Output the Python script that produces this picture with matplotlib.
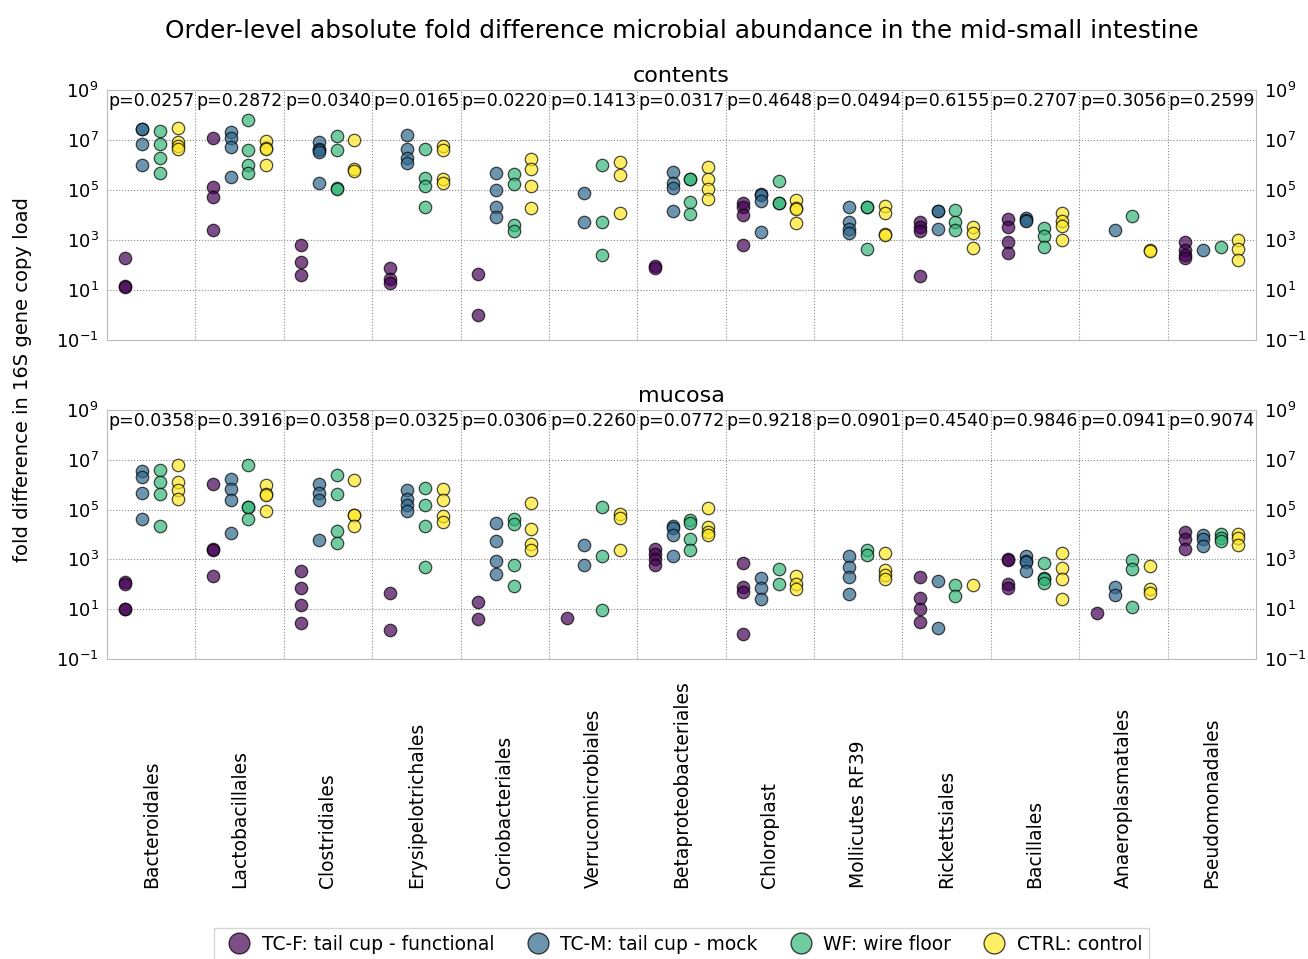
import numpy as np
import matplotlib.pyplot as plt
from matplotlib.lines import Line2D
from matplotlib.ticker import FixedLocator, LogFormatterSciNotation, NullLocator
from matplotlib.transforms import blended_transform_factory

orders = ["Bacteroidales", "Lactobacillales", "Clostridiales", "Erysipelotrichales",
          "Coriobacteriales", "Verrucomicrobiales", "Betaproteobacteriales", "Chloroplast",
          "Mollicutes RF39", "Rickettsiales", "Bacillales", "Anaeroplasmatales",
          "Pseudomonadales"]
groups = ["TC-F: tail cup - functional", "TC-M: tail cup - mock",
          "WF: wire floor", "CTRL: control"]

p_contents = ["0.0257", "0.2872", "0.0340", "0.0165", "0.0220", "0.1413", "0.0317",
              "0.4648", "0.0494", "0.6155", "0.2707", "0.3056", "0.2599"]
p_mucosa = ["0.0358", "0.3916", "0.0358", "0.0325", "0.0306", "0.2260", "0.0772",
            "0.9218", "0.0901", "0.4540", "0.9846", "0.0941", "0.9074"]

# log10 fold difference, one list per order
contents_tcf = [[2.29, 1.15, 1.12], [7.07, 5.11, 4.71, 3.4], [2.8, 2.11, 1.6],
                [1.89, 1.43, 1.29], [1.64, 0.0], [], [1.96, 1.87],
                [4.47, 4.33, 4.0, 2.8], [], [3.73, 3.53, 3.37, 1.56],
                [3.83, 3.53, 2.93, 2.48], [], [2.92, 2.6, 2.4, 2.27]]
contents_tcm = [[7.45, 7.43, 6.84, 5.99], [7.31, 7.09, 6.73, 5.51], [6.93, 6.64, 6.6, 6.51, 5.28],
                [7.2, 6.65, 6.27, 6.07], [5.69, 4.99, 4.33, 3.91], [4.89, 3.72],
                [5.71, 5.27, 5.07, 4.17], [4.83, 4.8, 4.56, 3.31], [4.33, 3.73, 3.44, 3.27],
                [4.17, 4.15, 3.44], [3.87, 3.8, 3.76], [3.41], [2.6]]
contents_wf = [[7.37, 6.84, 6.29, 5.69], [7.79, 6.6, 6.0, 5.67], [7.16, 6.6, 5.07, 5.05],
               [6.65, 5.48, 5.16, 4.31], [5.63, 5.24, 3.6, 3.37], [6.01, 3.71, 2.41],
               [5.44, 5.42, 4.53, 4.05], [5.36, 4.49, 4.47], [4.33, 4.31, 2.63],
               [4.19, 3.73, 3.4], [3.48, 3.17, 2.73], [3.96], [2.72]]
contents_ctrl = [[7.49, 6.91, 6.75, 6.65], [6.96, 6.69, 6.65, 6.0], [6.99, 5.83, 5.75],
                 [6.77, 6.6, 5.44, 5.27], [6.23, 5.85, 5.16, 4.27], [6.12, 5.61, 4.09],
                 [5.93, 5.43, 5.05, 4.64], [4.6, 4.29, 4.25, 3.69], [4.36, 4.09, 3.24, 3.2],
                 [3.53, 3.29, 2.69], [4.07, 3.76, 3.57, 3.0], [2.59, 2.57],
                 [2.99, 2.63, 2.19]]

mucosa_tcf = [[2.09, 2.0, 1.0, 0.99], [6.03, 3.4, 3.38, 2.33], [2.53, 1.85, 1.16, 0.43],
              [1.64, 0.17], [1.29, 0.6], [0.64], [3.43, 3.2, 3.0, 2.79],
              [2.84, 1.91, 1.69, 0.0], [], [2.31, 1.47, 1.0, 0.47],
              [3.0, 2.98, 2.03, 1.87], [0.84], [4.09, 3.8, 3.43]]
mucosa_tcm = [[6.53, 6.31, 5.67, 4.63], [6.24, 5.83, 5.37, 4.07], [6.04, 5.67, 5.37, 3.76],
              [5.77, 5.43, 5.2, 4.96], [4.47, 3.73, 2.95, 2.41], [3.59, 2.77],
              [4.36, 4.27, 3.96, 3.13], [2.25, 1.87, 1.43], [3.13, 2.71, 2.31, 1.6],
              [2.15, 0.24], [3.13, 2.93, 2.9, 2.53], [1.91, 1.56], [3.96, 3.8, 3.53]]
mucosa_wf = [[6.6, 6.09, 5.64, 4.36], [6.8, 5.11, 5.09, 4.63], [6.4, 5.63, 4.16, 3.67],
             [5.87, 5.2, 4.36, 2.71], [4.64, 4.43, 2.77, 1.93], [5.11, 3.13, 0.97],
             [4.57, 4.47, 3.8, 3.37], [2.6, 2.0], [3.37, 3.17],
             [1.97, 1.53], [2.87, 2.27, 2.2, 2.07], [2.96, 2.6, 1.07], [4.0, 3.85, 3.73]]
mucosa_ctrl = [[6.79, 6.11, 5.8, 5.43], [5.97, 5.63, 5.57, 4.93], [6.2, 4.8, 4.78, 4.33],
               [5.83, 5.4, 4.76, 4.49], [5.27, 4.23, 3.6, 3.37], [4.83, 4.67, 3.39],
               [5.07, 4.29, 4.09, 3.96], [2.33, 2.03, 1.83], [3.27, 2.57, 2.37, 2.2],
               [1.97], [3.24, 2.67, 2.2, 1.4], [2.73, 1.83, 1.64], [4.0, 3.84, 3.56]]

colors = plt.cm.viridis(np.linspace(0, 1, 4))
offsets = [-0.3, -0.1, 0.1, 0.3]


def draw_panel(ax, series, pvals, title):
    for g, data in enumerate(series):
        for i, vals in enumerate(data):
            if not vals:
                continue
            x = np.full(len(vals), i + offsets[g])
            ax.scatter(x, 10 ** np.array(vals), s=80, color=colors[g], alpha=0.7,
                       edgecolor="black", linewidth=0.9, zorder=3)
    ax.set_yscale("log")
    ax.set_ylim(1e-1, 1e9)
    ax.set_xlim(-0.5, len(orders) - 0.5)
    ax.yaxis.set_major_locator(FixedLocator([1e-1, 1e1, 1e3, 1e5, 1e7, 1e9]))
    ax.yaxis.set_major_formatter(LogFormatterSciNotation())
    ax.yaxis.set_minor_locator(NullLocator())
    ax.tick_params(axis="y", which="both", length=0, pad=6, labelsize=13,
                   labelright=True, right=True)
    ax.set_xticks(range(len(orders)))
    for y in [1e1, 1e3, 1e5, 1e7]:
        ax.axhline(y, color="#888888", linestyle=":", linewidth=0.8, zorder=1)
    for k in range(1, len(orders)):
        ax.axvline(k - 0.5, color="#888888", linestyle=":", linewidth=0.8, zorder=1)
    for sp in ax.spines.values():
        sp.set_color("#bbbbbb")
    trans = blended_transform_factory(ax.transData, ax.transAxes)
    for i, p in enumerate(pvals):
        ax.text(i, 0.955, "p=" + p, transform=trans, ha="center", va="center",
                fontsize=12.5)
    ax.set_title(title, fontsize=16, pad=6)


fig = plt.figure(figsize=(13.08, 9.59), dpi=100)
ax1 = fig.add_axes([0.0818, 0.6455, 0.8784, 0.2607])
ax2 = fig.add_axes([0.0818, 0.3128, 0.8784, 0.2597])

draw_panel(ax1, [contents_tcf, contents_tcm, contents_wf, contents_ctrl], p_contents, "contents")
draw_panel(ax2, [mucosa_tcf, mucosa_tcm, mucosa_wf, mucosa_ctrl], p_mucosa, "mucosa")

ax1.tick_params(axis="x", length=0, labelbottom=False)
ax2.set_xticklabels(orders, rotation=90, va="bottom", fontsize=13.5)
ax2.tick_params(axis="x", length=0, pad=165)

fig.suptitle("Order-level absolute fold difference microbial abundance in the mid-small intestine",
             fontsize=17.8, x=0.521, y=0.98)
fig.text(0.017, 0.604, "fold difference in 16S gene copy load", rotation=90,
         ha="center", va="center", fontsize=14)

handles = [Line2D([], [], marker="o", linestyle="none", markersize=15, color=colors[g],
                  alpha=0.7, markeredgecolor="black") for g in range(4)]
fig.legend(handles, groups, loc="center", bbox_to_anchor=(0.521, 0.0155), ncol=4,
           fontsize=13.5, handletextpad=0.2, columnspacing=1.3, borderpad=0.35,
           fancybox=False, edgecolor="#cccccc")

plt.savefig("out.png", dpi=100)
